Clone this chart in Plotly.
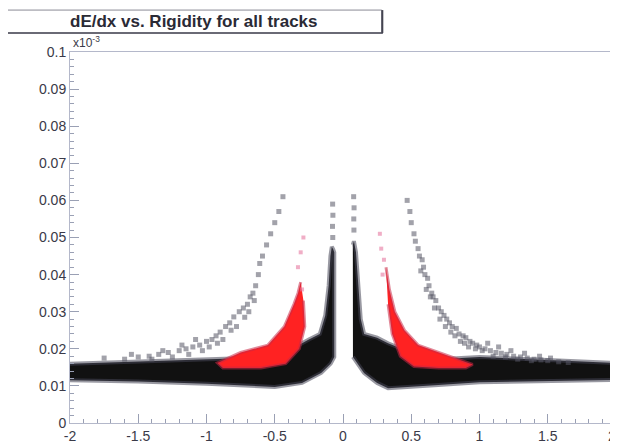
import plotly.graph_objects as go

# tick labels
x_tickvals = [-2, -1.5, -1, -0.5, 0, 0.5, 1, 1.5, 2]
x_ticktext = ["-2", "-1.5", "-1", "-0.5", "0", "0.5", "1", "1.5", "2"]
y_tickvals = [0, 0.01, 0.02, 0.03, 0.04, 0.05, 0.06, 0.07, 0.08, 0.09, 0.1]
y_ticktext = ["0", "0.01", "0.02", "0.03", "0.04", "0.05", "0.06", "0.07", "0.08", "0.09", "0.1"]

# dense black band, negative rigidity (outline)
left_top_x = [-2.0, -1.5, -1.0, -0.7, -0.5, -0.35, -0.25, -0.17, -0.13, -0.105, -0.092, -0.082, -0.072, -0.064]
left_top_y = [0.0160, 0.0165, 0.0170, 0.0175, 0.0180, 0.0205, 0.0225, 0.0240, 0.0290, 0.0370, 0.0450, 0.0475, 0.0468, 0.0460]
left_bot_x = [-0.064, -0.09, -0.16, -0.3, -0.5, -1.0, -1.5, -2.0]
left_bot_y = [0.0178, 0.0160, 0.0135, 0.0108, 0.0097, 0.0106, 0.0112, 0.0115]

# dense black band, positive rigidity
right_top_x = [0.072, 0.08, 0.095, 0.11, 0.13, 0.155, 0.25, 0.33, 0.5, 0.7, 1.0, 1.5, 2.0]
right_top_y = [0.0480, 0.0490, 0.0460, 0.0377, 0.0280, 0.0240, 0.0230, 0.0215, 0.0190, 0.0172, 0.0178, 0.0170, 0.0162]
right_bot_x = [2.0, 1.5, 1.0, 0.67, 0.5, 0.33, 0.25, 0.154, 0.073]
right_bot_y = [0.0116, 0.0114, 0.0110, 0.0102, 0.0098, 0.0094, 0.0108, 0.0135, 0.0178]

# red selected region
red_left_x = [-0.31, -0.33, -0.36, -0.43, -0.55, -0.75, -0.92, -0.88, -0.6, -0.42, -0.32, -0.28, -0.29]
red_left_y = [0.038, 0.035, 0.032, 0.026, 0.021, 0.019, 0.0162, 0.0148, 0.0148, 0.016, 0.020, 0.026, 0.033]
red_right_x = [0.315, 0.34, 0.38, 0.45, 0.55, 0.7, 0.85, 0.95, 0.9, 0.7, 0.52, 0.42, 0.36, 0.33]
red_right_y = [0.042, 0.036, 0.030, 0.025, 0.021, 0.019, 0.017, 0.0158, 0.0148, 0.0148, 0.0152, 0.018, 0.024, 0.032]

# sparse grey upper branches
branch_r_x = [0.47, 0.49, 0.50, 0.52, 0.53, 0.55, 0.56, 0.58, 0.59, 0.60, 0.62, 0.63, 0.65, 0.66,
              0.68, 0.70, 0.72, 0.74, 0.76, 0.78, 0.80, 0.83, 0.85, 0.88, 0.90, 0.93, 0.95, 0.98,
              1.00, 1.04, 1.08, 1.12, 1.16, 1.20, 1.25, 1.30, 1.35, 1.40, 1.45, 1.50, 1.58, 1.65]
branch_r_y = [0.060, 0.057, 0.054, 0.051, 0.049, 0.047, 0.045, 0.044, 0.042, 0.040, 0.039, 0.037, 0.035, 0.034,
              0.033, 0.031, 0.030, 0.029, 0.028, 0.027, 0.026, 0.0255, 0.024, 0.0235, 0.023, 0.022, 0.0215, 0.021,
              0.0205, 0.020, 0.0195, 0.019, 0.0188, 0.0185, 0.018, 0.0178, 0.0175, 0.0172, 0.017, 0.0168, 0.0165, 0.0163]
branch_r2_x = [0.57, 0.61, 0.64, 0.67, 0.71, 0.75, 0.79, 0.82, 0.86, 0.89, 0.92, 0.97, 1.02, 1.06,
               1.10, 1.14, 1.19, 1.23, 1.28, 1.33, 1.38, 1.44, 1.52]
branch_r2_y = [0.041, 0.036, 0.034, 0.031, 0.028, 0.026, 0.0245, 0.0235, 0.022, 0.0215, 0.0205, 0.020, 0.0195, 0.0215,
               0.018, 0.0205, 0.0178, 0.0195, 0.0172, 0.0188, 0.0168, 0.018, 0.0175]
branch_l_x = [-0.44, -0.47, -0.50, -0.53, -0.56, -0.59, -0.61, -0.62, -0.64, -0.66, -0.68, -0.70, -0.73, -0.76,
              -0.80, -0.83, -0.86, -0.90, -0.93, -0.96, -1.00, -1.05, -1.10, -1.15, -1.20, -1.28, -1.35, -1.42, -1.50, -1.60]
branch_l_y = [0.061, 0.057, 0.054, 0.051, 0.048, 0.045, 0.043, 0.040, 0.037, 0.035, 0.034, 0.032, 0.031, 0.030,
              0.0286, 0.027, 0.026, 0.0245, 0.0235, 0.0225, 0.022, 0.021, 0.0205, 0.020, 0.0195, 0.019, 0.0185, 0.018, 0.0178, 0.0172]
branch_l2_x = [-0.65, -0.69, -0.72, -0.78, -0.82, -0.88, -0.92, -0.98, -1.03, -1.08, -1.13, -1.18, -1.25, -1.32, -1.40, -1.55, -1.75]
branch_l2_y = [0.033, 0.030, 0.0285, 0.026, 0.025, 0.0225, 0.0215, 0.0205, 0.0195, 0.0225, 0.0185, 0.021, 0.0178, 0.0195, 0.0172, 0.0185, 0.0175]

# sparse points above the spikes and red tips
spike_x = [-0.075, -0.077, -0.074, -0.076, 0.08, 0.079, 0.081, 0.078]
spike_y = [0.050, 0.053, 0.056, 0.059, 0.052, 0.055, 0.058, 0.061]
pink_x = [0.27, 0.28, 0.30, 0.29, -0.31, -0.33, -0.29, -0.30]
pink_y = [0.051, 0.047, 0.044, 0.040, 0.046, 0.042, 0.050, 0.036]

fig = go.Figure()

for xs, ys in [(left_top_x + left_bot_x, left_top_y + left_bot_y),
               (right_top_x + right_bot_x, right_top_y + right_bot_y)]:
    fig.add_trace(go.Scatter(x=xs, y=ys, mode="lines", fill="toself",
                             fillcolor="#111111",
                             line=dict(color="rgba(70,70,85,0.55)", width=4),
                             hoverinfo="skip", showlegend=False))

for xs, ys in [(branch_r_x, branch_r_y), (branch_r2_x, branch_r2_y),
               (branch_l_x, branch_l_y), (branch_l2_x, branch_l2_y), (spike_x, spike_y)]:
    fig.add_trace(go.Scatter(x=xs, y=ys, mode="markers",
                             marker=dict(symbol="square", size=5, color="rgba(85,85,100,0.55)"),
                             hoverinfo="skip", showlegend=False))

for xs, ys in [(red_left_x, red_left_y), (red_right_x, red_right_y)]:
    fig.add_trace(go.Scatter(x=xs, y=ys, mode="lines", fill="toself",
                             fillcolor="#ff2222",
                             line=dict(color="rgba(200,40,70,0.55)", width=3),
                             hoverinfo="skip", showlegend=False))

fig.add_trace(go.Scatter(x=pink_x, y=pink_y, mode="markers",
                         marker=dict(symbol="square", size=4, color="rgba(230,120,160,0.6)"),
                         hoverinfo="skip", showlegend=False))

axis_font = dict(family="Liberation Sans, Arial, sans-serif", size=14, color="#3a3a48")

fig.update_xaxes(range=[-2, 2], tickvals=x_tickvals, ticktext=x_ticktext,
                 ticks="inside", ticklen=9, tickcolor="#9aa0b4",
                 minor=dict(ticks="inside", ticklen=4, dtick=0.1, tickcolor="#9aa0b4"),
                 showline=True, linecolor="#b4b8ca", linewidth=1, mirror=True,
                 showgrid=False, zeroline=False, tickfont=axis_font, automargin=False)
fig.update_yaxes(range=[0, 0.1], tickvals=y_tickvals, ticktext=y_ticktext,
                 ticks="inside", ticklen=9, tickcolor="#9aa0b4",
                 minor=dict(ticks="inside", ticklen=4, dtick=0.002, tickcolor="#9aa0b4"),
                 showline=True, linecolor="#b4b8ca", linewidth=1, mirror=True,
                 showgrid=False, zeroline=False, tickfont=axis_font, automargin=False)

# the last x label sits on the window edge, plotly drops it, so draw it by hand
fig.add_annotation(x=x_tickvals[-1], xref="x", xanchor="right", xshift=2,
                   y=0, yref="paper", yanchor="top", yshift=-3,
                   showarrow=False, text=x_ticktext[-1], font=axis_font)

# ROOT style title box with shadow
fig.add_shape(type="rect", xref="paper", yref="paper", x0=-0.115, x1=0.571, y0=1.051, y1=1.113,
              line=dict(color="#8a8a95", width=1), fillcolor="white")
fig.add_shape(type="line", xref="paper", yref="paper", x0=-0.115, x1=0.573, y0=1.051, y1=1.051,
              line=dict(color="#6a6a75", width=2))
fig.add_shape(type="line", xref="paper", yref="paper", x0=0.572, x1=0.572, y0=1.051, y1=1.113,
              line=dict(color="#444450", width=2))
fig.add_annotation(xref="paper", yref="paper", x=0.228, y=1.082, xanchor="center", yanchor="middle",
                   showarrow=False, text="<b>dE/dx vs. Rigidity for all tracks</b>",
                   font=dict(family="Liberation Sans, Arial, sans-serif", size=17, color="#2a2a35"))
fig.add_annotation(xref="paper", yref="paper", x=0.002, y=1.0, xanchor="left", yanchor="bottom",
                   showarrow=False, text="x10<sup>-3</sup>",
                   font=dict(family="Liberation Sans, Arial, sans-serif", size=12, color="#3a3a48"))

# page adds an 8px body margin, so the figure is sized to the remaining window
fig.update_layout(width=610, height=438,
                  margin=dict(l=62, r=2, t=44, b=23, autoexpand=False),
                  plot_bgcolor="white", paper_bgcolor="white")

fig.write_html("out.html")
